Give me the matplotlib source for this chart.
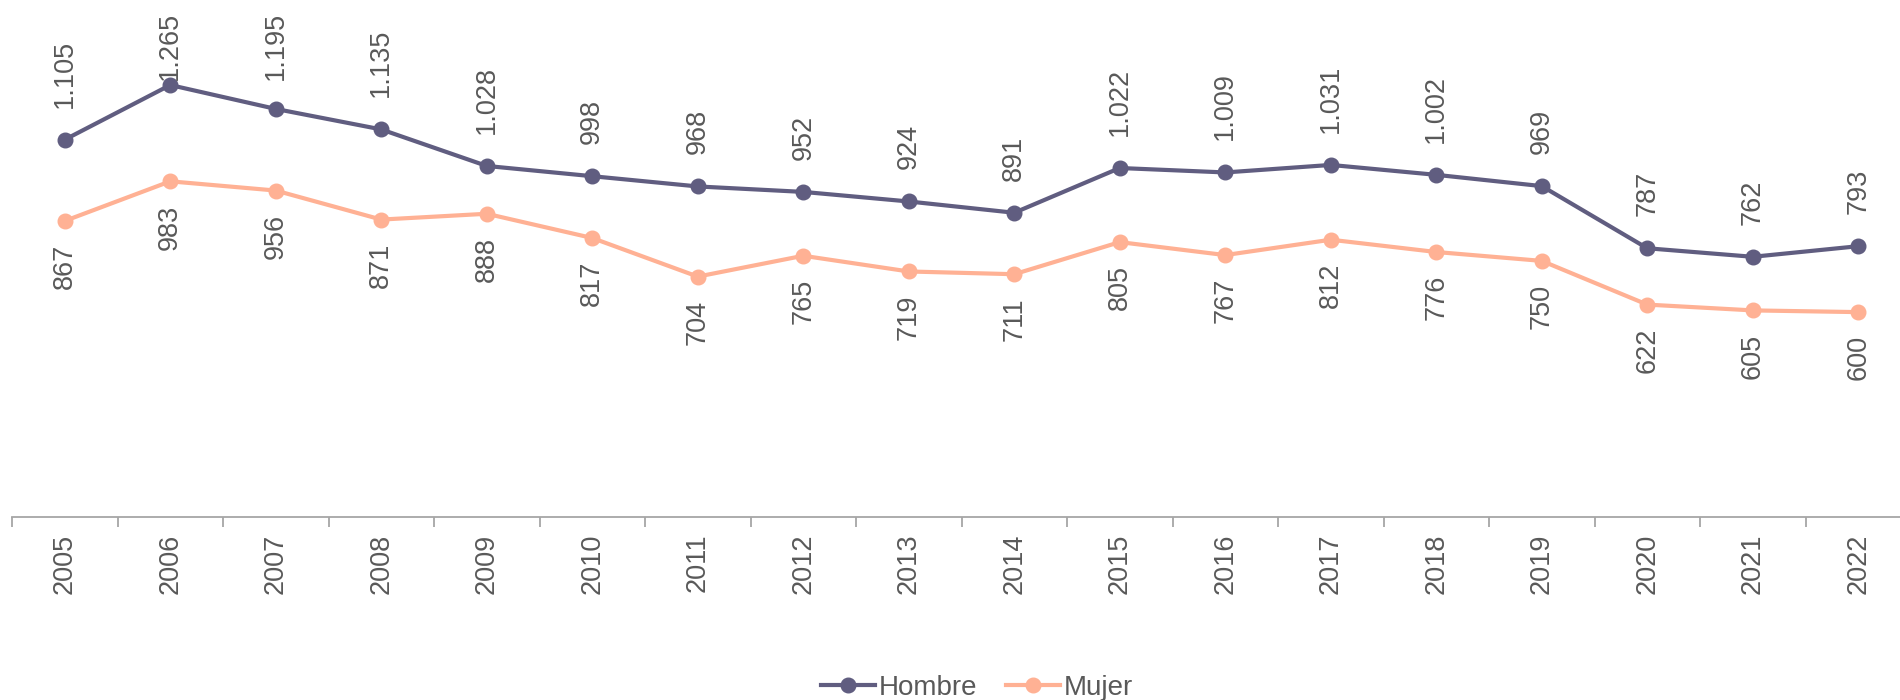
import numpy as np
import matplotlib.pyplot as plt

years = [str(y) for y in range(2005, 2023)]
hombre = [1105, 1265, 1195, 1135, 1028, 998, 968, 952, 924, 891,
          1022, 1009, 1031, 1002, 969, 787, 762, 793]
mujer = [867, 983, 956, 871, 888, 817, 704, 765, 719, 711,
         805, 767, 812, 776, 750, 622, 605, 600]

c_hombre = "#605D80"
c_mujer = "#FFB194"
c_text = "#595959"
fname = "Liberation Sans"


def fmt(v):
    # thousands separator as a dot
    return "{:,}".format(v).replace(",", ".")


fig = plt.figure(figsize=(19, 7), dpi=100)
ax = fig.add_axes([12 / 1900, 183 / 700, 18 * 105.5 / 1900, 517 / 700])
x = np.arange(len(years))

ax.plot(x, hombre, color=c_hombre, lw=3, marker="o", ms=10.5, label="Hombre")
ax.plot(x, mujer, color=c_mujer, lw=3, marker="o", ms=10.5, label="Mujer")

top_labels = []
for xi, h, m in zip(x, hombre, mujer):
    t = ax.annotate(fmt(h), (xi, h), xytext=(0, 32), textcoords="offset pixels",
                    rotation=90, ha="center", va="bottom", fontsize=19.5,
                    color=c_text, family=fname)
    top_labels.append(t)
    ax.annotate(fmt(m), (xi, m), xytext=(0, -23), textcoords="offset pixels",
                rotation=90, ha="center", va="top", fontsize=19.5,
                color=c_text, family=fname)

ax.set_xlim(-0.5, len(years) - 0.5)
ax.set_ylim(0, 1514)
ax.set_yticks([])
for s in ["top", "right", "left"]:
    ax.spines[s].set_visible(False)
ax.spines["bottom"].set_color("#A6A6A6")
ax.spines["bottom"].set_linewidth(1.3)

ax.set_xticks(x)
ax.set_xticklabels(years, rotation=90, fontsize=19.5, color=c_text, family=fname)
ax.tick_params(axis="x", which="major", length=0, pad=12)
ax.set_xticks(np.arange(len(years) + 1) - 0.5, minor=True)
ax.tick_params(axis="x", which="minor", length=7, width=1.3, color="#A6A6A6",
               direction="out")

fig.legend(loc="center", bbox_to_anchor=(977 / 1900, 12 / 700), ncol=2,
           frameon=False, handlelength=1.95, columnspacing=1.0, handletextpad=0.15,
           prop={"family": fname, "size": 20}, labelcolor=c_text)

# keep labels inside the figure, like the original pushes them down
fig.canvas.draw()
limit = fig.bbox.height - 12
for t in top_labels:
    bb = t.get_window_extent()
    if bb.y1 > limit:
        dx, dy = t.xyann
        t.xyann = (dx, dy - (bb.y1 - limit))

fig.savefig("out.png", dpi=100)
